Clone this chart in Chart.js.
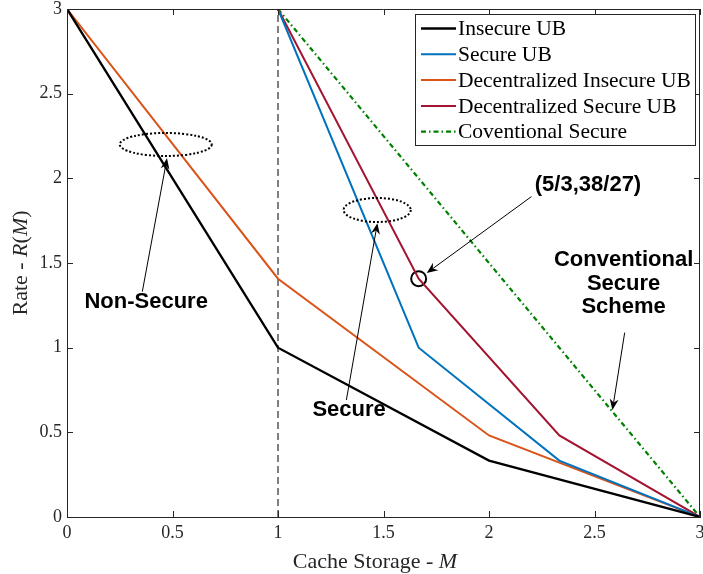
<!DOCTYPE html>
<html>
<head>
<meta charset="utf-8">
<script src="https://cdn.jsdelivr.net/npm/chart.js@4"></script>
<style>
  html, body { margin: 0; padding: 0; background: #fff; }
</style>
</head>
<body>
<canvas id="rate" width="703" height="574"></canvas>
<script>
// Cache storage M (x) against delivery rate R(M) (y), N = K = 3.
const M_INSECURE = [0, 1, 2, 3];
const R_INSECURE = [3, 1, 1 / 3, 0];
const M_SECURE = [1, 5 / 3, 7 / 3, 3];
const R_SECURE = [3, 1, 1 / 3, 0];
const M_DEC_INSECURE = [0, 1, 2, 3];
const R_DEC_INSECURE = [3, 38 / 27, 13 / 27, 0];
const M_DEC_SECURE = [1, 5 / 3, 7 / 3, 3];
const R_DEC_SECURE = [3, 38 / 27, 13 / 27, 0];
const M_CONVENTIONAL = [1, 3];
const R_CONVENTIONAL = [3, 0];
const M_SPLIT = [1, 1];
const R_SPLIT = [0, 3];
const M_MARKED = [5 / 3];
const R_MARKED = [38 / 27];

const TICKS = [0, 0.5, 1, 1.5, 2, 2.5, 3];
const SERIES_LABELS = [
  'Insecure UB',
  'Secure UB',
  'Decentralized Insecure UB',
  'Decentralized Secure UB',
  'Coventional Secure',
];

// Callouts, in axis units.
const RINGS = [
  { x: 0.468, y: 2.2, rx: 0.218, ry: 0.068 },
  { x: 1.470, y: 1.813, rx: 0.159, ry: 0.071 },
];
const ARROWS = [
  { x0: 0.357, y0: 1.331, x1: 0.474, y1: 2.119 },
  { x0: 1.324, y0: 0.691, x1: 1.471, y1: 1.735 },
  { x0: 2.201, y0: 1.892, x1: 1.705, y1: 1.441 },
  { x0: 2.643, y0: 1.089, x1: 2.585, y1: 0.632 },
];
const NOTES = [
  { lines: ['Non-Secure'], x: 0.375, y: 1.272, align: 'center' },
  { lines: ['Secure'], x: 1.337, y: 0.632, align: 'center' },
  { lines: ['(5/3,38/27)'], x: 2.217, y: 1.961, align: 'left' },
  { lines: ['Conventional', 'Secure', 'Scheme'], x: 2.638, y: 1.518, align: 'center' },
];

const SERIF = '"Liberation Serif", "Times New Roman", serif';
const SANS = '"Liberation Sans", Arial, sans-serif';
const AXIS_COLOR = '#262626';

function pts(xs, ys) {
  return xs.map((x, i) => ({ x, y: ys[i] }));
}

function series(label, xs, ys, color, extra) {
  return Object.assign({
    label,
    data: pts(xs, ys),
    borderColor: color,
    backgroundColor: color,
    borderWidth: 2,
    pointRadius: 0,
    fill: false,
    tension: 0,
  }, extra || {});
}

// Text with an italic symbol, e.g. "Cache Storage - " + "M".
function drawMixed(ctx, parts, size) {
  const widths = parts.map(([t, it]) => {
    ctx.font = `${it ? 'italic ' : ''}${size}px ${SERIF}`;
    return ctx.measureText(t).width;
  });
  const total = widths.reduce((a, b) => a + b, 0);
  let x = -total / 2;
  parts.forEach(([t, it], i) => {
    ctx.font = `${it ? 'italic ' : ''}${size}px ${SERIF}`;
    ctx.fillText(t, x, 0);
    x += widths[i];
  });
}

function arrowHead(ctx, x0, y0, x1, y1) {
  const len = Math.hypot(x1 - x0, y1 - y0);
  const ux = (x1 - x0) / len, uy = (y1 - y0) / len;
  const nx = -uy, ny = ux;
  const L = 11, W = 4.5, notch = 3.5;
  ctx.beginPath();
  ctx.moveTo(x0, y0);
  ctx.lineTo(x1 - (L - notch) * ux, y1 - (L - notch) * uy);
  ctx.lineWidth = 1;
  ctx.strokeStyle = '#000';
  ctx.stroke();
  ctx.beginPath();
  ctx.moveTo(x1, y1);
  ctx.lineTo(x1 - L * ux + W * nx, y1 - L * uy + W * ny);
  ctx.lineTo(x1 - (L - notch) * ux, y1 - (L - notch) * uy);
  ctx.lineTo(x1 - L * ux - W * nx, y1 - L * uy - W * ny);
  ctx.closePath();
  ctx.fillStyle = '#000';
  ctx.fill();
}

const decorations = {
  id: 'decorations',
  afterDatasetsDraw(chart) {
    const { ctx, chartArea: a, scales: { x, y } } = chart;
    ctx.save();

    // box with inward ticks on all four sides
    ctx.strokeStyle = AXIS_COLOR;
    ctx.lineWidth = 1;
    ctx.beginPath();
    ctx.moveTo(a.left, a.top + 0.5);
    ctx.lineTo(a.right, a.top + 0.5);
    ctx.moveTo(a.right - 0.5, a.top);
    ctx.lineTo(a.right - 0.5, a.bottom);
    TICKS.forEach((v) => {
      const px = Math.round(x.getPixelForValue(v)) + 0.5;
      ctx.moveTo(px, a.bottom);
      ctx.lineTo(px, a.bottom - 6);
      ctx.moveTo(px, a.top);
      ctx.lineTo(px, a.top + 6);
      const py = Math.round(y.getPixelForValue(v)) + 0.5;
      ctx.moveTo(a.left, py);
      ctx.lineTo(a.left + 6, py);
      ctx.moveTo(a.right, py);
      ctx.lineTo(a.right - 6, py);
    });
    ctx.stroke();

    // tick labels
    ctx.fillStyle = AXIS_COLOR;
    ctx.font = `18px ${SERIF}`;
    ctx.textBaseline = 'middle';
    TICKS.forEach((v) => {
      ctx.textAlign = 'center';
      ctx.fillText(String(v), x.getPixelForValue(v), a.bottom + 16);
      ctx.textAlign = 'right';
      ctx.fillText(String(v), a.left - 5, y.getPixelForValue(v));
    });

    // dotted rings
    ctx.setLineDash([2, 2]);
    ctx.lineWidth = 2;
    ctx.strokeStyle = '#000';
    RINGS.forEach((r) => {
      const cx = x.getPixelForValue(r.x), cy = y.getPixelForValue(r.y);
      const rx = x.getPixelForValue(r.x + r.rx) - cx;
      const ry = cy - y.getPixelForValue(r.y + r.ry);
      ctx.beginPath();
      ctx.ellipse(cx, cy, rx, ry, 0, 0, Math.PI * 2);
      ctx.stroke();
    });
    ctx.setLineDash([]);

    // arrows
    ARROWS.forEach((ar) => {
      arrowHead(ctx,
        x.getPixelForValue(ar.x0), y.getPixelForValue(ar.y0),
        x.getPixelForValue(ar.x1), y.getPixelForValue(ar.y1));
    });

    // bold callout text
    ctx.font = `bold 22px ${SANS}`;
    ctx.fillStyle = '#000';
    ctx.textBaseline = 'middle';
    NOTES.forEach((n) => {
      ctx.textAlign = n.align;
      const px = x.getPixelForValue(n.x);
      const py = y.getPixelForValue(n.y);
      n.lines.forEach((line, i) => ctx.fillText(line, px, py + i * 23.5));
    });

    // legend box, upper right
    const lx = 415, ly = 14, lw = 280, lh = 131;
    ctx.fillStyle = '#fff';
    ctx.fillRect(lx, ly, lw, lh);
    ctx.strokeStyle = AXIS_COLOR;
    ctx.lineWidth = 1;
    ctx.strokeRect(lx + 0.5, ly + 0.5, lw, lh);
    ctx.font = `21.5px ${SERIF}`;
    ctx.textAlign = 'left';
    SERIES_LABELS.forEach((label, i) => {
      const ds = chart.data.datasets[i];
      const ry = 28.5 + i * 25.8;
      ctx.beginPath();
      ctx.setLineDash(ds.borderDash || []);
      ctx.strokeStyle = ds.borderColor;
      ctx.lineWidth = ds.borderWidth;
      ctx.moveTo(421, ry);
      ctx.lineTo(456, ry);
      ctx.stroke();
      ctx.setLineDash([]);
      ctx.fillStyle = '#000';
      ctx.fillText(label, 458, ry + 1);
    });

    // axis titles
    ctx.fillStyle = AXIS_COLOR;
    ctx.textAlign = 'left';
    ctx.save();
    ctx.translate(375, 562);
    drawMixed(ctx, [['Cache Storage - ', false], ['M', true]], 22);
    ctx.restore();
    ctx.save();
    ctx.translate(21, 263);
    ctx.rotate(-Math.PI / 2);
    drawMixed(ctx, [['Rate - ', false], ['R', true], ['(', false], ['M', true], [')', false]], 22);
    ctx.restore();

    ctx.restore();
  },
};

function axis(size) {
  return {
    type: 'linear',
    min: 0,
    max: 3,
    afterBuildTicks: (scale) => { scale.ticks = TICKS.map((v) => ({ value: v })); },
    afterFit: (scale) => {
      size(scale);
      scale.paddingLeft = 0;
      scale.paddingRight = 0;
      scale.paddingTop = 0;
      scale.paddingBottom = 0;
    },
    grid: { display: false, drawTicks: false },
    border: { display: true, color: AXIS_COLOR, width: 1 },
    ticks: { display: false },
  };
}

new Chart(document.getElementById('rate'), {
  type: 'line',
  data: {
    datasets: [
      series(SERIES_LABELS[0], M_INSECURE, R_INSECURE, '#000000', { borderWidth: 2.3 }),
      series(SERIES_LABELS[1], M_SECURE, R_SECURE, '#0072BD'),
      series(SERIES_LABELS[2], M_DEC_INSECURE, R_DEC_INSECURE, '#D95319'),
      series(SERIES_LABELS[3], M_DEC_SECURE, R_DEC_SECURE, '#A2142F'),
      series(SERIES_LABELS[4], M_CONVENTIONAL, R_CONVENTIONAL, '#008000',
        { borderDash: [5, 3, 1.5, 3], borderWidth: 2.2 }),
      series('split', M_SPLIT, R_SPLIT, '#000000', { borderWidth: 1, borderDash: [7, 4] }),
      series('marked', M_MARKED, R_MARKED, '#000000', {
        showLine: false,
        pointRadius: 7.5,
        pointBorderWidth: 2,
        pointBackgroundColor: 'rgba(0,0,0,0)',
        pointBorderColor: '#000',
      }),
    ],
  },
  options: {
    responsive: false,
    animation: false,
    parsing: false,
    layout: { autoPadding: false, padding: { top: 9, right: 3, left: 0, bottom: 0 } },
    plugins: {
      legend: { display: false },
      tooltip: { enabled: false },
    },
    scales: {
      x: axis((s) => { s.height = 57; }),
      y: axis((s) => { s.width = 67; }),
    },
  },
  plugins: [decorations],
});
</script>
</body>
</html>
